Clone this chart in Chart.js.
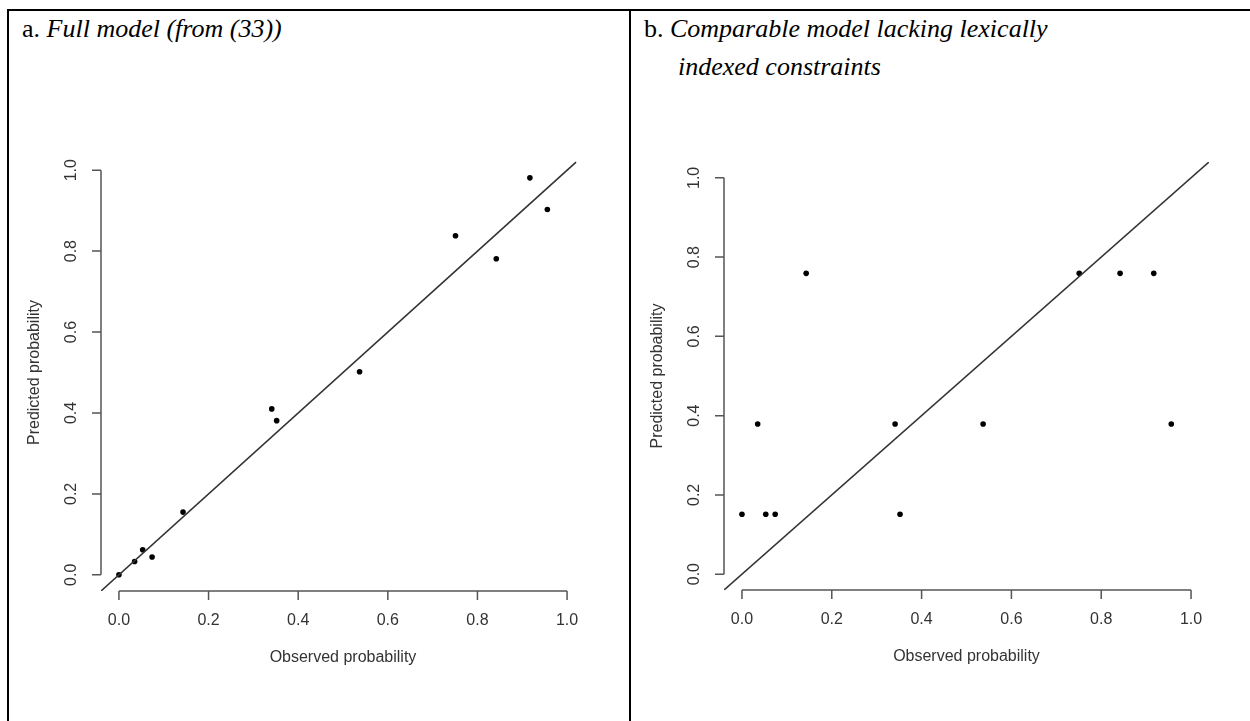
<!DOCTYPE html>
<html>
<head>
<meta charset="utf-8">
<script src="https://cdn.jsdelivr.net/npm/chart.js@4.4.1/dist/chart.umd.min.js"></script>
<style>
  html, body { margin: 0; padding: 0; background: #fff; }
  body { width: 1250px; height: 721px; position: relative; overflow: hidden; }
  .frame { position: absolute; left: 7px; top: 9px; width: 1260px; height: 720px;
           border-top: 2px solid #000; border-left: 2px solid #000; }
  .divider { position: absolute; left: 629px; top: 9px; width: 2px; height: 712px; background: #000; }
  .cap { position: absolute; font-family: "Liberation Serif", "Times New Roman", serif;
         font-size: 26px; line-height: 38px; color: #000; white-space: nowrap; }
  .cap i { font-style: italic; }
  #capA { left: 22px; top: 10px; }
  #capB { left: 644px; top: 10px; padding-left: 34px; text-indent: -34px; }
  canvas { position: absolute; }
  #chartA { left: 0; top: 100px; }
  #chartB { left: 632px; top: 100px; }
</style>
</head>
<body>
<div class="frame"></div>
<div class="divider"></div>
<div class="cap" id="capA">a. <i>Full model (from (33))</i></div>
<div class="cap" id="capB">b. <i>Comparable model lacking lexically</i><br><i>indexed constraints</i></div>
<canvas id="chartA" width="629" height="621"></canvas>
<canvas id="chartB" width="618" height="621"></canvas>
<script>
// observed probabilities (same for both panels)
const observed = [0.0, 0.035, 0.053, 0.074, 0.143, 0.341, 0.352, 0.537, 0.751, 0.842, 0.917, 0.956];
// predicted, full model
const predictedFull = [0.0, 0.033, 0.062, 0.044, 0.155, 0.41, 0.381, 0.502, 0.838, 0.781, 0.981, 0.903];
// predicted, model without lexically indexed constraints
const predictedNoLex = [0.151, 0.379, 0.151, 0.151, 0.759, 0.379, 0.151, 0.379, 0.759, 0.759, 0.759, 0.379];

// y = x reference line ends
const diagFull = [-0.04, 1.02];
const diagNoLex = [-0.04, 1.04];

const tickValues = [0, 0.2, 0.4, 0.6, 0.8, 1.0];
const tickLabels = ['0.0', '0.2', '0.4', '0.6', '0.8', '1.0'];
const xTitle = 'Observed probability';
const yTitle = 'Predicted probability';

// R style axes: line only from first to last tick, labels parallel to axis
const rAxes = {
  id: 'rAxes',
  afterDraw(chart) {
    const ctx = chart.ctx;
    const xs = chart.scales.x, ys = chart.scales.y, area = chart.chartArea;
    ctx.save();
    ctx.strokeStyle = '#555';
    ctx.lineWidth = 1.5;
    ctx.beginPath();
    ctx.moveTo(xs.getPixelForValue(tickValues[0]), area.bottom);
    ctx.lineTo(xs.getPixelForValue(tickValues[tickValues.length - 1]), area.bottom);
    ctx.moveTo(area.left, ys.getPixelForValue(tickValues[0]));
    ctx.lineTo(area.left, ys.getPixelForValue(tickValues[tickValues.length - 1]));
    tickValues.forEach(v => {
      const px = xs.getPixelForValue(v);
      ctx.moveTo(px, area.bottom);
      ctx.lineTo(px, area.bottom + 9);
      const py = ys.getPixelForValue(v);
      ctx.moveTo(area.left, py);
      ctx.lineTo(area.left - 9, py);
    });
    ctx.stroke();

    ctx.fillStyle = '#333';
    ctx.font = '16px "Liberation Sans", Arial, sans-serif';
    ctx.textAlign = 'center';
    ctx.textBaseline = 'middle';
    tickValues.forEach((v, i) => {
      ctx.fillText(tickLabels[i], xs.getPixelForValue(v), area.bottom + 30);
    });
    const midX = (xs.getPixelForValue(0) + xs.getPixelForValue(1)) / 2;
    ctx.fillText(xTitle, midX, area.bottom + 67);

    tickValues.forEach((v, i) => {
      ctx.save();
      ctx.translate(area.left - 29, ys.getPixelForValue(v));
      ctx.rotate(-Math.PI / 2);
      ctx.fillText(tickLabels[i], 0, 0);
      ctx.restore();
    });
    ctx.save();
    ctx.translate(area.left - 66, (area.top + area.bottom) / 2);
    ctx.rotate(-Math.PI / 2);
    ctx.fillText(yTitle, 0, 0);
    ctx.restore();
    ctx.restore();
  }
};

function makePlot(id, predicted, diag, padding) {
  const pts = observed.map((o, i) => ({ x: o, y: predicted[i] }));
  const line = diag.map(v => ({ x: v, y: v }));
  return new Chart(document.getElementById(id), {
    type: 'scatter',
    data: {
      datasets: [{
        data: line,
        showLine: true,
        borderColor: '#333',
        borderWidth: 1.6,
        pointRadius: 0
      }, {
        data: pts,
        backgroundColor: '#000',
        borderColor: '#000',
        pointRadius: 2.8,
        borderWidth: 0
      }]
    },
    options: {
      responsive: false,
      animation: false,
      events: [],
      layout: { padding: padding },
      plugins: { legend: { display: false }, tooltip: { enabled: false } },
      scales: {
        x: { type: 'linear', min: -0.04, max: 1.04, display: false },
        y: { type: 'linear', min: -0.04, max: 1.04, display: false }
      }
    },
    plugins: [rAxes]
  });
}

makePlot('chartA', predictedFull, diagFull, { left: 101, right: 44, top: 54, bottom: 130 });
makePlot('chartB', predictedNoLex, diagNoLex, { left: 92, right: 41, top: 62, bottom: 131 });
</script>
</body>
</html>
